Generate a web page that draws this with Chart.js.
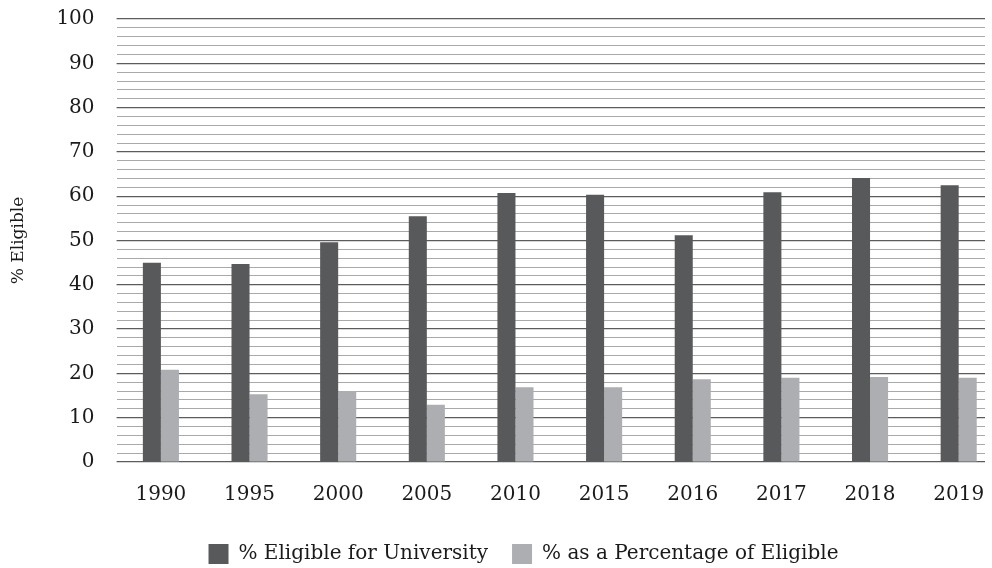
<!DOCTYPE html>
<html>
<head>
<meta charset="utf-8">
<script src="https://cdn.jsdelivr.net/npm/chart.js@4"></script>
<style>
  html, body { margin: 0; padding: 0; background: #fff; }
  #wrap { width: 992px; height: 568px; }
</style>
</head>
<body>
<div id="wrap"><canvas id="chart" width="992" height="568"></canvas></div>
<script>
// data
const years = ['1990', '1995', '2000', '2005', '2010', '2015', '2016', '2017', '2018', '2019'];
const eligible = [45.0, 44.7, 49.6, 55.5, 60.7, 60.3, 51.2, 60.9, 64.1, 62.5];
const asPctOfEligible = [20.8, 15.3, 16.0, 12.9, 16.9, 16.9, 18.7, 19.0, 19.2, 19.0];
const seriesNames = ['% Eligible for University', '% as a Percentage of Eligible'];
const yTitle = '% Eligible';

const DARK = '#58595b';
const LIGHT = '#adaeb1';
const FONT = "'DejaVu Serif', serif";

// the category axis runs a little past the right end of the gridlines in the original
const X_STRETCH = 886 / 868;
// the legend sits a bit right of centre in the original
const LEGEND_SHIFT = 27;

const layoutTweaks = {
  id: 'layoutTweaks',
  afterLayout(chart) {
    const x = chart.scales.x;
    x.right = x.left + (x.right - x.left) * X_STRETCH;
    x.configure();
    chart.legend.left += LEGEND_SHIFT;
    chart.legend.right += LEGEND_SHIFT;
  }
};

Chart.defaults.font.family = FONT;
Chart.defaults.font.size = 20;
Chart.defaults.color = '#1a1a1a';

new Chart(document.getElementById('chart'), {
  type: 'bar',
  data: {
    labels: years,
    datasets: [{
      label: seriesNames[0],
      data: eligible,
      backgroundColor: DARK
    }, {
      label: seriesNames[1],
      data: asPctOfEligible,
      backgroundColor: LIGHT
    }]
  },
  options: {
    responsive: false,
    animation: false,
    barPercentage: 1,
    categoryPercentage: 0.407,
    layout: { padding: { left: 8, right: 7, top: 0, bottom: -6 } },
    plugins: {
      tooltip: { enabled: false },
      legend: {
        position: 'bottom',
        labels: { boxWidth: 20, boxHeight: 20, padding: 24 }
      }
    },
    scales: {
      x: {
        grid: { display: false },
        border: { display: false },
        ticks: { padding: 13 }
      },
      y: {
        min: 0,
        max: 100,
        border: { display: false },
        title: { display: true, text: yTitle, font: { size: 17 }, padding: { top: 0, bottom: 6 } },
        ticks: {
          stepSize: 2,
          padding: 22,
          autoSkip: false,
          font: { lineHeight: 1 },
          callback: v => (v % 10 === 0 ? v : '')
        },
        grid: {
          drawTicks: false,
          color: ctx => (ctx.tick && ctx.tick.value % 10 === 0 ? 'rgba(0,0,0,0)' : '#a9a9a9')
        },
        // only leave the top label's room above the plot, not the tick padding too
        afterFit: scale => { scale.paddingTop = 19; }
      },
      // major lines sit on top of the bars
      y2: {
        position: 'right',
        min: 0,
        max: 100,
        z: 1,
        border: { display: false },
        ticks: { display: false, stepSize: 10 },
        grid: { drawTicks: false, color: 'rgba(0,0,0,0.64)', lineWidth: 1.3 }
      }
    }
  },
  plugins: [layoutTweaks]
});
</script>
</body>
</html>
